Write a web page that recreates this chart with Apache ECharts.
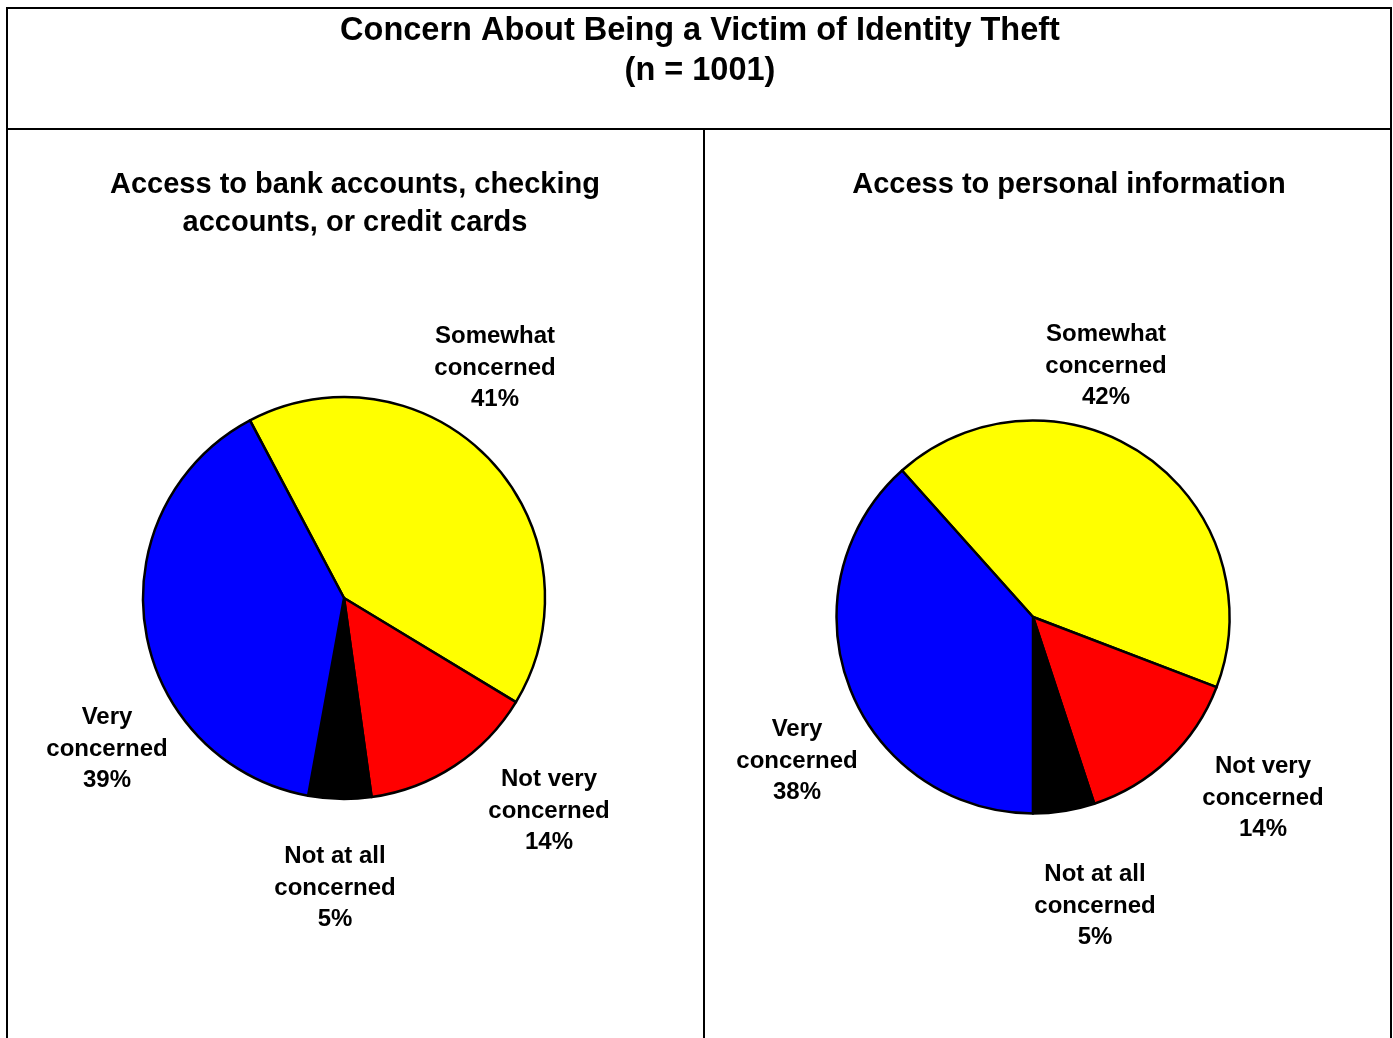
<!DOCTYPE html>
<html>
<head>
<meta charset="utf-8">
<title>Concern About Being a Victim of Identity Theft</title>
<script src="https://cdn.jsdelivr.net/npm/echarts@6/dist/echarts.min.js"></script>
<style>
  html, body { margin: 0; padding: 0; background: #ffffff; }
  #chart { width: 1393px; height: 1038px; }
</style>
</head>
<body>
<div id="chart"></div>
<script>
// Response categories, listed clockwise from the top of each pie
const categories = ['Somewhat concerned', 'Not very concerned', 'Not at all concerned', 'Very concerned'];
const sliceColors = ['#ffff00', '#ff0000', '#000000', '#0000ff'];

// Percent of respondents (n = 1001)
const bankAccessValues = [41, 14, 5, 39];
const personalInfoValues = [42, 14, 5, 38];

const chartTitle = ['Concern About Being a Victim of Identity Theft', '(n = 1001)'];
const bankTitle = ['Access to bank accounts, checking', 'accounts, or credit cards'];
const personalTitle = ['Access to personal information'];

const FONT = '"Liberation Sans", Arial, Helvetica, sans-serif';

// Label anchor points (centre of each three-line label), per pie
const labelAnchors = [
  [[495, 368], [549, 811], [335, 888], [107, 749]],
  [[1106, 366], [1263, 798], [1095, 906], [797, 761]]
];

function buildData(values) {
  return categories.map((name, i) => ({
    name: name,
    value: values[i],
    itemStyle: { color: sliceColors[i] }
  }));
}

function pieSeries(values, center, radius, startAngle, idx) {
  return {
    type: 'pie',
    center: center,
    radius: radius,
    startAngle: startAngle,
    clockwise: true,
    avoidLabelOverlap: false,
    silent: true,
    itemStyle: { borderColor: '#000000', borderWidth: 2.5 },
    label: {
      show: true,
      position: 'outside',
      fontFamily: FONT,
      fontWeight: 'bold',
      fontSize: 24,
      lineHeight: 31.5,
      color: '#000000',
      align: 'center',
      formatter: p => p.name.replace(' concerned', '\nconcerned') + '\n' + p.value + '%'
    },
    labelLine: { show: false },
    labelLayout: p => {
      const a = labelAnchors[idx][p.dataIndex];
      return { x: a[0], y: a[1], align: 'center', verticalAlign: 'middle' };
    },
    emphasis: { disabled: true },
    data: buildData(values)
  };
}

function textLines(lines, cx, firstY, lineGap, size) {
  return lines.map((t, i) => ({
    type: 'text',
    x: cx,
    y: firstY + i * lineGap,
    silent: true,
    style: {
      text: t,
      fill: '#000000',
      font: 'bold ' + size + 'px ' + FONT,
      align: 'center',
      verticalAlign: 'middle'
    }
  }));
}

function rule(x1, y1, x2, y2) {
  return {
    type: 'line',
    silent: true,
    shape: { x1: x1, y1: y1, x2: x2, y2: y2 },
    style: { stroke: '#000000', lineWidth: 2 }
  };
}

const chart = echarts.init(document.getElementById('chart'), null, { renderer: 'canvas' });

chart.setOption({
  backgroundColor: '#ffffff',
  animation: false,
  graphic: [
    // frame: header box and two panels
    rule(6, 8, 1392, 8),
    rule(7, 8, 7, 1038),
    rule(1391, 8, 1391, 1038),
    rule(6, 129, 1392, 129),
    rule(704, 129, 704, 1038),
    ...textLines(chartTitle, 700, 31.5, 40, 32.5),
    ...textLines(bankTitle, 355, 184.5, 38, 29),
    ...textLines(personalTitle, 1069, 184.5, 38, 29)
  ],
  series: [
    pieSeries(bankAccessValues, [344, 598], 201, 117.9, 0),
    pieSeries(personalInfoValues, [1033, 617], 196.5, 131.8, 1)
  ]
});
</script>
</body>
</html>
